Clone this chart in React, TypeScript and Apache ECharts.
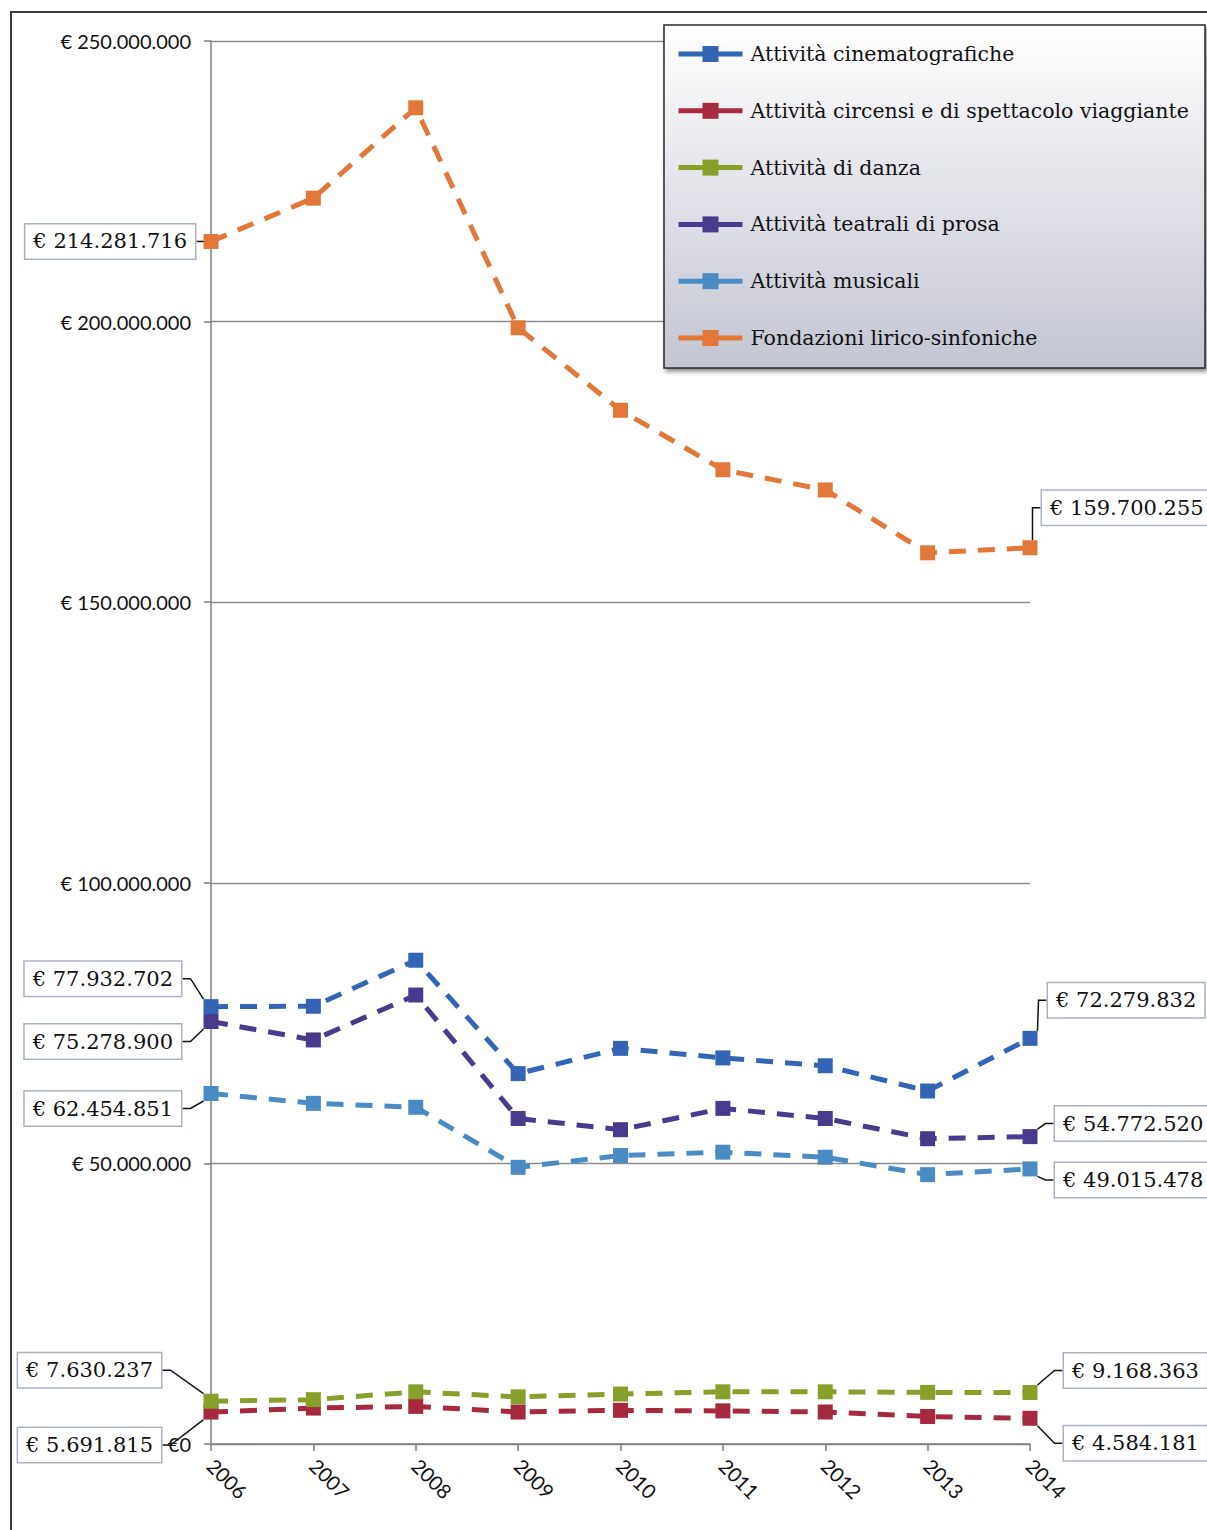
import React, { useEffect, useRef } from "react";
import * as echarts from "echarts";

const YEARS = ["2006", "2007", "2008", "2009", "2010", "2011", "2012", "2013", "2014"];

const SERIES_NAMES = [
  "Attività cinematografiche",
  "Attività circensi e di spettacolo viaggiante",
  "Attività di danza",
  "Attività teatrali di prosa",
  "Attività musicali",
  "Fondazioni lirico-sinfoniche",
];

const CINEMA = [77932702, 78000000, 86200000, 66000000, 70500000, 68800000, 67400000, 62900000, 72279832];
const CIRCENSI = [5691815, 6400000, 6700000, 5700000, 6000000, 5900000, 5700000, 4900000, 4584181];
const DANZA = [7630237, 7900000, 9300000, 8400000, 8900000, 9300000, 9300000, 9200000, 9168363];
const TEATRALI = [75278900, 72000000, 80000000, 58000000, 56000000, 59800000, 58000000, 54400000, 54772520];
const MUSICALI = [62454851, 60700000, 60000000, 49300000, 51400000, 52000000, 51100000, 48000000, 49015478];
const FONDAZIONI = [214281716, 222000000, 238100000, 198900000, 184200000, 173600000, 170000000, 158800000, 159700255];

const Y_MIN = 0;
const Y_MAX = 250000000;
const Y_STEP = 50000000;

const VALUES = [CINEMA, CIRCENSI, DANZA, TEATRALI, MUSICALI, FONDAZIONI];
const COLORS = ["#3465b4", "#a52a40", "#87a02b", "#4a3a8e", "#4a8bc4", "#e2773a"];

// label placement offsets from the marker centre: [leftDx, leftDy, rightDx, rightDy]
const LABEL_OFFSETS = [
  [-30, -28, 18, -38],
  [-50, 33, 34, 25],
  [-50, -31, 34, -22],
  [-30, 20, 25, -13],
  [-30, 15, 25, 11],
  [-16, 0, 12, -40],
];

const fmt = (v: number) => String(Math.round(v)).replace(/\B(?=(\d{3})+(?!\d))/g, ".");

export default function App() {
  const ref = useRef<HTMLDivElement>(null);

  useEffect(() => {
    document.body.style.margin = "0";
    if (!ref.current) return;
    const chart = echarts.init(ref.current, null, { renderer: "svg" });
    const last = YEARS.length - 1;

    const series = SERIES_NAMES.map((name, si) => ({
      name,
      type: "line",
      symbol: "rect",
      symbolSize: 15,
      color: COLORS[si],
      lineStyle: { width: 5, type: [17, 12], color: COLORS[si] },
      itemStyle: { color: COLORS[si] },
      data: VALUES[si].map((v, i) =>
        i === 0 || i === last ? { value: v, label: { show: true } } : { value: v }
      ),
      label: {
        show: false,
        formatter: (p: any) => "€ " + fmt(p.value),
        backgroundColor: "#ffffff",
        borderColor: "#a9b1c6",
        borderWidth: 1.5,
        padding: [5, 8, 5, 8],
        fontFamily: "DejaVu Serif",
        fontSize: 21,
        lineHeight: 24,
        color: "#111",
      },
      labelLine: {
        show: true,
        length2: 8,
        lineStyle: { color: "#111", width: 1.5 },
      },
      labelLayout: (params: any) => {
        const off = LABEL_OFFSETS[params.seriesIndex];
        const cx = params.rect.x + params.rect.width / 2;
        const cy = params.rect.y + params.rect.height / 2;
        if (params.dataIndex === 0) {
          return { x: cx + off[0], y: cy + off[1], align: "right", verticalAlign: "middle" };
        }
        return { x: cx + off[2], y: cy + off[3], align: "left", verticalAlign: "middle" };
      },
    }));

    chart.setOption({
      animation: false,
      backgroundColor: "#ffffff",
      grid: { left: 211, right: 177, top: 41, bottom: 86, containLabel: false },
      xAxis: {
        type: "category",
        data: YEARS,
        boundaryGap: false,
        axisLine: { show: true, lineStyle: { color: "#7f7f7f", width: 1.5 } },
        axisTick: { show: true, length: 7, lineStyle: { color: "#7f7f7f", width: 1.5 } },
        axisLabel: {
          rotate: -45,
          margin: 18,
          fontFamily: "Lato",
          fontSize: 20,
          color: "#111",
        },
      },
      yAxis: {
        type: "value",
        min: Y_MIN,
        max: Y_MAX,
        interval: Y_STEP,
        axisLine: { show: true, lineStyle: { color: "#7f7f7f", width: 1.5 } },
        axisTick: { show: true, length: 7, lineStyle: { color: "#7f7f7f", width: 1.5 } },
        splitLine: { show: true, lineStyle: { color: "#8c8c8c", width: 1.3 } },
        axisLabel: {
          margin: 20,
          fontFamily: "Lato",
          fontSize: 20,
          color: "#111",
          formatter: (v: number) => (v === 0 ? "€0" : "€ " + fmt(v)),
        },
      },
      legend: {
        orient: "vertical",
        left: 676,
        top: 43,
        padding: 0,
        itemWidth: 64,
        itemHeight: 20,
        itemGap: 34.8,
        selectedMode: false,
        z: 10,
        data: SERIES_NAMES,
        lineStyle: { type: "solid", width: 5 },
        textStyle: {
          fontFamily: "DejaVu Serif",
          fontSize: 20.5,
          lineHeight: 22,
          color: "#111",
          padding: [0, 0, 0, 3],
        },
      },
      graphic: [
        {
          type: "rect",
          z: 0,
          silent: true,
          shape: { x: 11, y: 12, width: 1300, height: 1600 },
          style: { fill: "none", stroke: "#3a3a3a", lineWidth: 2 },
        },
        {
          type: "rect",
          z: 5,
          silent: true,
          shape: { x: 664, y: 25, width: 541, height: 343 },
          style: {
            fill: new echarts.graphic.LinearGradient(0, 0, 0, 1, [
              { offset: 0, color: "#ffffff" },
              { offset: 1, color: "#c3c5d2" },
            ]),
            stroke: "#2a2a2a",
            lineWidth: 1.5,
            shadowBlur: 4,
            shadowOffsetX: 2,
            shadowOffsetY: 3,
            shadowColor: "rgba(0,0,0,0.45)",
          },
        },
      ],
      series,
    });

    return () => chart.dispose();
  }, []);

  return <div ref={ref} style={{ width: 1207, height: 1530 }} />;
}
